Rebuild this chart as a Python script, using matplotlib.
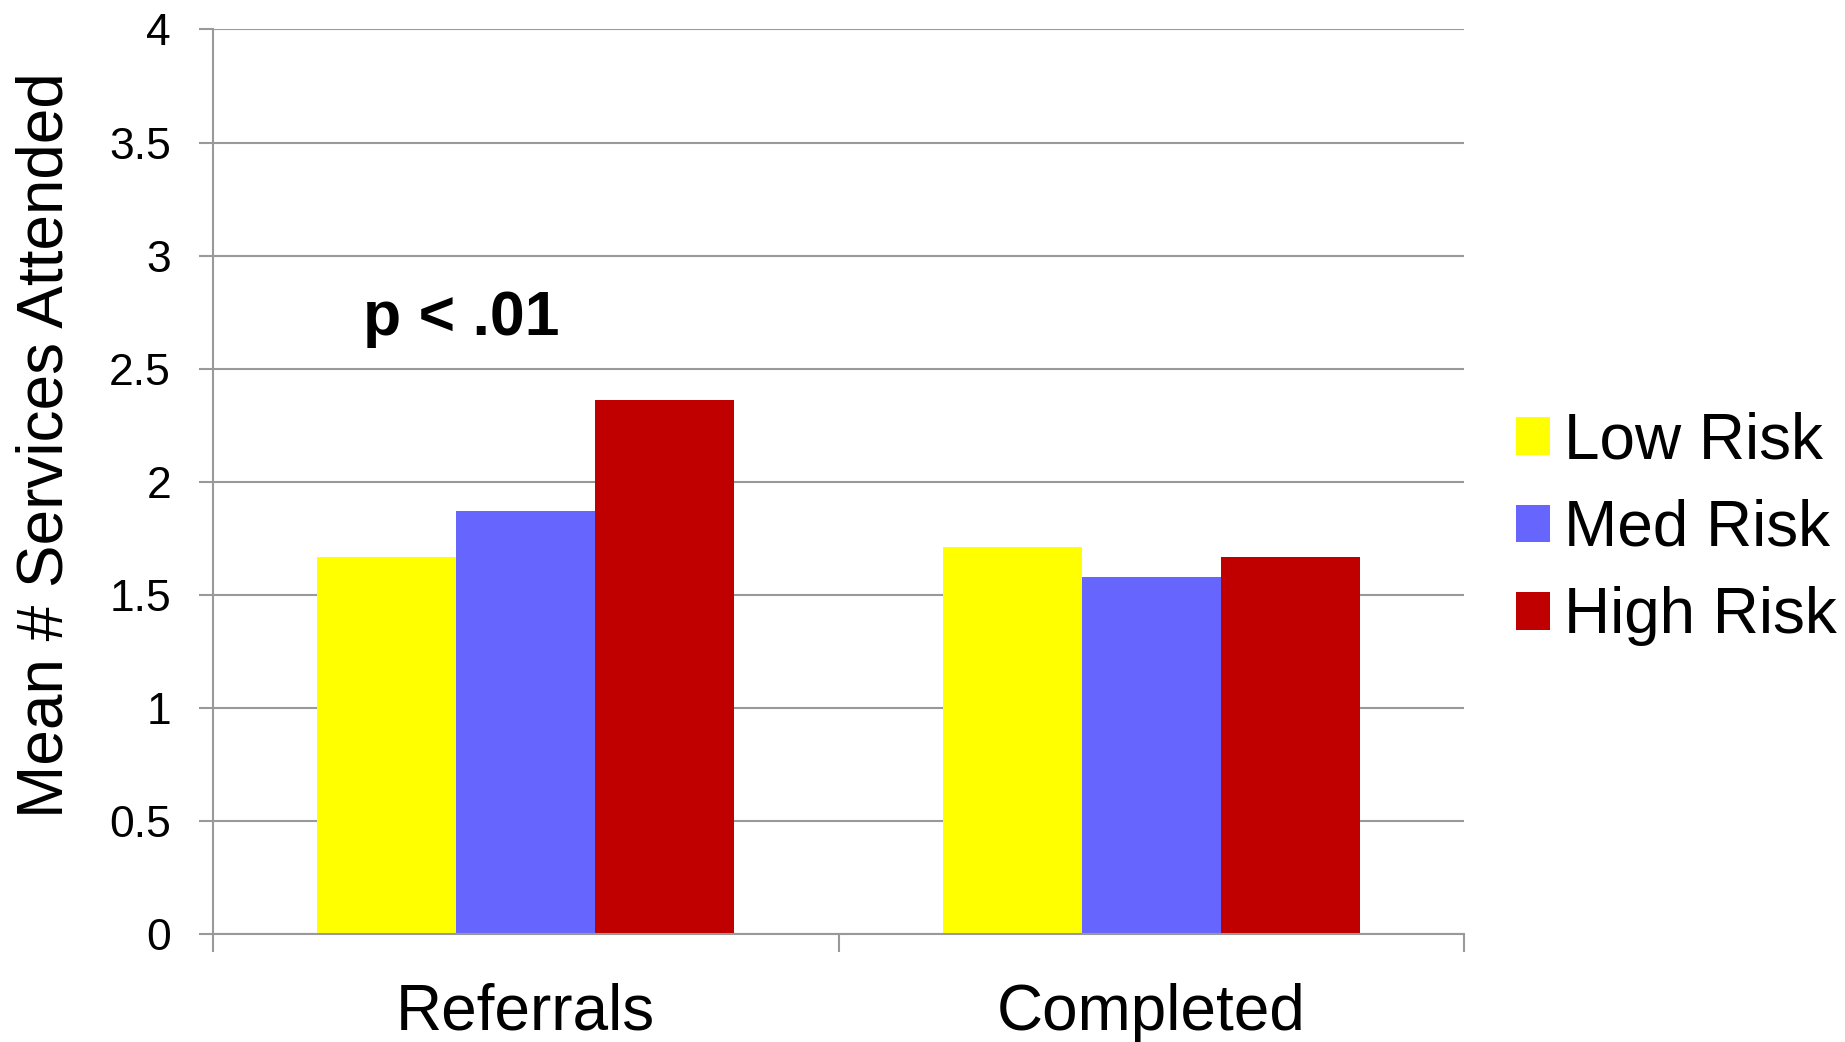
import matplotlib
matplotlib.use("Agg")
import matplotlib.pyplot as plt
from matplotlib.patches import Patch
import numpy as np

plt.rcParams['font.family'] = ['Liberation Sans', 'DejaVu Sans']

categories = ['Referrals', 'Completed']
series = ['Low Risk', 'Med Risk', 'High Risk']
low_risk = [1.67, 1.71]
med_risk = [1.87, 1.58]
high_risk = [2.36, 1.67]
colors = ['#FFFF00', '#6666FF', '#C00000']
y_ticks = [0, 0.5, 1, 1.5, 2, 2.5, 3, 3.5, 4]
y_tick_labels = ['0', '0.5', '1', '1.5', '2', '2.5', '3', '3.5', '4']

grey = '#999999'

fig = plt.figure(figsize=(18.45, 10.42), dpi=100)
ax = fig.add_axes([0.1153, 0.1034, 0.7937 - 0.1153, 0.9717 - 0.1034])

x = np.arange(len(categories))
w = 1 / 4.5
for i, vals in enumerate([low_risk, med_risk, high_risk]):
    ax.bar(x + (i - 1) * w, vals, width=w, color=colors[i], linewidth=0, zorder=2)

ax.set_xlim(-0.5, 1.5)
ax.set_ylim(0, 4)
ax.set_yticks(y_ticks)
ax.set_yticklabels(y_tick_labels)
ax.yaxis.grid(True, color=grey, linewidth=1.5)
ax.set_axisbelow(True)

# category boundaries carry the tick marks, labels sit in between
ax.set_xticks([-0.5, 0.5, 1.5])
ax.set_xticklabels([])
ax.set_xticks(x, minor=True)
ax.set_xticklabels(categories, minor=True, fontsize=46)
ax.tick_params(axis='x', which='major', length=13, width=1.5, color=grey, direction='out')
ax.tick_params(axis='x', which='minor', length=0, pad=35)
ax.tick_params(axis='y', length=10, width=1.5, color=grey, pad=20, labelsize=32)

for s in ['top', 'right']:
    ax.spines[s].set_visible(False)
for s in ['left', 'bottom']:
    ax.spines[s].set_color(grey)
    ax.spines[s].set_linewidth(1.5)

ax.text(-0.103, 2.649, 'p < .01', fontsize=45, fontweight='bold', ha='center', va='baseline')

fig.text(0.0245, 1 - 445 / 1042, 'Mean # Services Attended', rotation=90,
         fontsize=46, ha='center', va='center')

handles = [Patch(facecolor=c, edgecolor='none') for c in colors]
ax.legend(handles, series, loc='center left', bbox_to_anchor=(0.8217, 1 - 529 / 1042),
          bbox_transform=fig.transFigure, frameon=False, fontsize=46,
          handlelength=0.53, handleheight=0.53, handletextpad=0.22,
          labelspacing=0.43, borderpad=0, borderaxespad=0)

fig.savefig('out.png', dpi=100)
